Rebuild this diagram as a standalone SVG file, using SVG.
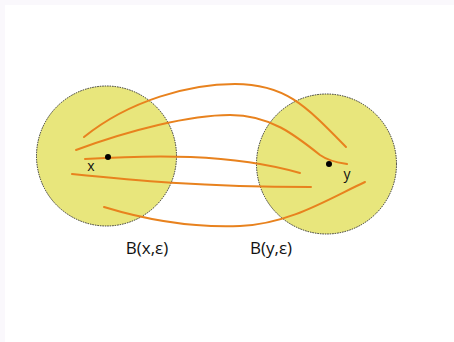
<svg xmlns="http://www.w3.org/2000/svg" width="454" height="342" viewBox="0 0 454 342">
<style>
.ball{fill:#E8E67C;stroke:#333;stroke-width:1;stroke-dasharray:1.5 1}
.c{fill:none;stroke:#E8821E;stroke-width:2;stroke-linecap:round}
.t{font-family:"Open Sans","Liberation Sans",sans-serif;fill:#111}
</style>
<rect width="454" height="342" fill="#FFFFFF"/>
<rect x="0" y="0" width="454" height="5" fill="#FAF8FC"/>
<rect x="0" y="0" width="5" height="342" fill="#FAF8FC"/>
<g id="ballX">
<circle class="ball" cx="106.5" cy="156" r="70"/>
</g>
<g id="ballY">
<circle class="ball" cx="326.5" cy="164" r="70"/>
</g>
<g id="connectors">
<path class="c" d="M84,137 C130,100 190,84 235,84 C285,84 305,105 346,147"/>
<path class="c" d="M76,150 C130,130 190,115 230,115 C270,115 295,135 320,155 C330,162 340,163 347,164"/>
<path class="c" d="M85,159 C150,155 230,153 300,173"/>
<path class="c" d="M72,174 C130,180 200,187 311,187"/>
<path class="c" d="M104,207 C140,218 190,228 240,226 C290,224 330,198 365,182"/>
</g>
<g id="pointX">
<circle cx="108" cy="157" r="3" fill="#000"/>
<text class="t" x="91" y="171" font-size="14" text-anchor="middle">x</text>
</g>
<g id="pointY">
<circle cx="329" cy="164" r="3" fill="#000"/>
<text class="t" x="347" y="179" font-size="14" text-anchor="middle">y</text>
</g>
<g id="labels">
<text class="t" x="147" y="254" font-size="17" text-anchor="middle">B(x,ε)</text>
<text class="t" x="271" y="254" font-size="17" text-anchor="middle">B(y,ε)</text>
</g>
</svg>
